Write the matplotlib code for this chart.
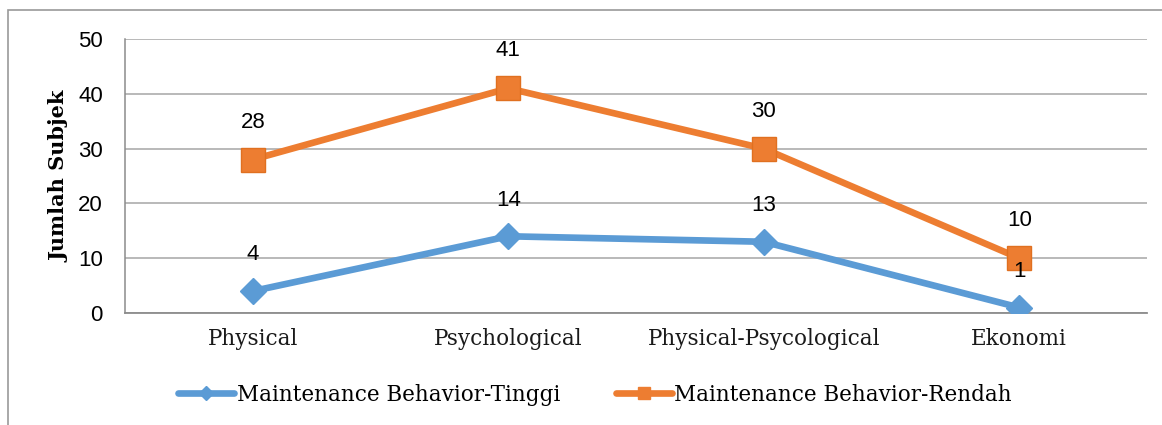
import matplotlib
matplotlib.use("Agg")
import matplotlib.pyplot as plt
from matplotlib.patches import Rectangle
from matplotlib.lines import Line2D

categories = ["Physical", "Psychological", "Physical-Psycological", "Ekonomi"]
tinggi = [4, 14, 13, 1]
rendah = [28, 41, 30, 10]
series_names = ["Maintenance Behavior-Tinggi", "Maintenance Behavior-Rendah"]
yticks = [0, 10, 20, 30, 40, 50]

BLUE = "#5B9BD5"
ORANGE = "#ED7D31"

W, H = 1162, 425
fig = plt.figure(figsize=(W / 100, H / 100), dpi=100)
fig.patch.set_facecolor("white")

# outer chart frame
fig.add_artist(Rectangle((8 / W, -0.1), 1.2, 1 - 10 / H + 0.1, transform=fig.transFigure,
                         fill=False, edgecolor="#9A9A9A", linewidth=1.2))

ax = fig.add_axes([125 / W, 1 - 313 / H, (1147 - 125) / W, (313 - 39) / H])
x = list(range(len(categories)))

ax.plot(x, tinggi, color=BLUE, linewidth=4.8, marker="D", markersize=13.5,
        markerfacecolor=BLUE, markeredgecolor=BLUE, solid_capstyle="round", zorder=3)
ax.plot(x, rendah, color=ORANGE, linewidth=4.8, marker="s", markersize=17,
        markerfacecolor=ORANGE, markeredgecolor="#E07020", markeredgewidth=1, zorder=4)

NUMFONT = dict(fontsize=16, family="Liberation Sans", color="black")
for xi, v in zip(x, tinggi):
    ax.annotate(str(v), (xi, v), xytext=(0, 26), textcoords="offset points",
                ha="center", va="center", zorder=5, **NUMFONT)
for xi, v in zip(x, rendah):
    ax.annotate(str(v), (xi, v), xytext=(0, 27), textcoords="offset points",
                ha="center", va="center", zorder=5, **NUMFONT)

ax.set_xlim(-0.5, len(categories) - 0.5)
ax.set_ylim(0, 50)
ax.set_yticks(yticks)
ax.set_yticklabels([str(t) for t in yticks], **NUMFONT)
ax.set_xticks(x)
ax.set_xticklabels(categories, fontsize=15.5, family="DejaVu Serif", color="#1a1a1a")
ax.tick_params(axis="both", length=0)
ax.tick_params(axis="y", pad=16)
ax.tick_params(axis="x", pad=11)
ax.grid(axis="y", color="#A6A6A6", linewidth=1.1)
ax.set_axisbelow(True)
for s in ["top", "right"]:
    ax.spines[s].set_visible(False)
ax.spines["left"].set_color("#8C8C8C")
ax.spines["bottom"].set_color("#8C8C8C")
ax.spines["left"].set_linewidth(1.1)
ax.spines["bottom"].set_linewidth(1.3)

ax.set_ylabel("Jumlah Subjek", fontsize=15, family="DejaVu Serif", fontweight="bold", labelpad=6)

handles = [
    Line2D([], [], color=BLUE, linewidth=4.8, marker="D", markersize=7, solid_capstyle="round"),
    Line2D([], [], color=ORANGE, linewidth=4.8, marker="s", markersize=9, solid_capstyle="round"),
]
fig.legend(handles, series_names, loc="center", bbox_to_anchor=(595 / W, 1 - 395 / H),
           ncol=2, frameon=False, prop={"family": "DejaVu Serif", "size": 15.5},
           handlelength=2.6, handletextpad=0.1, columnspacing=2.6)

fig.savefig("out.png", dpi=100, facecolor="white")
